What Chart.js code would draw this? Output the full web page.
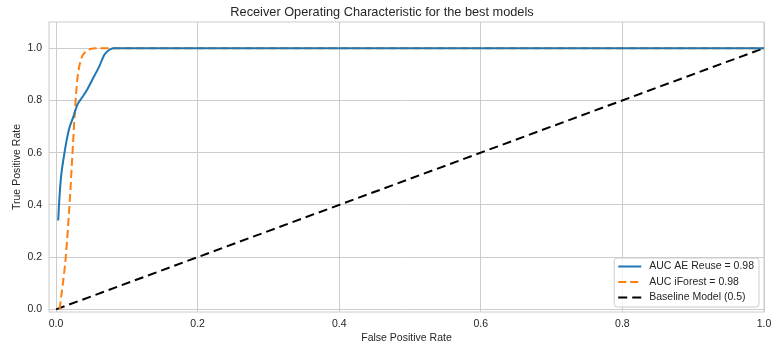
<!DOCTYPE html>
<html>
<head>
<meta charset="utf-8">
<script src="https://cdn.jsdelivr.net/npm/chart.js@4"></script>
<style>
  html, body { margin: 0; padding: 0; background: #ffffff; }
  #wrap { width: 773px; height: 349px; }
</style>
</head>
<body>
<div id="wrap"><canvas id="roc" width="773" height="349"></canvas></div>
<script>
// ROC curve points (false positive rate, true positive rate)
const aeFpr = [0.003, 0.004, 0.0066, 0.011, 0.018, 0.0245, 0.030, 0.037, 0.044, 0.051, 0.061, 0.068, 0.075, 0.081, 1.0];
const aeTpr = [0.34, 0.394, 0.496, 0.585, 0.687, 0.738, 0.783, 0.812, 0.842, 0.878, 0.93, 0.974, 0.993, 1.0, 1.0];

const ifFpr = [0.005, 0.0137, 0.0194, 0.023, 0.027, 0.030, 0.035, 0.042, 0.049, 0.056, 1.0];
const ifTpr = [0.0, 0.202, 0.419, 0.59, 0.776, 0.879, 0.955, 0.987, 0.997, 1.0, 1.0];

const baseFpr = [0.0, 1.0];
const baseTpr = [0.0, 1.0];

const seriesLabels = ['AUC AE Reuse = 0.98', 'AUC iForest = 0.98', 'Baseline Model (0.5)'];
const tickValues = [0.0, 0.2, 0.4, 0.6, 0.8, 1.0];

const FONT = '"Liberation Sans", Arial, sans-serif';
const TEXT = '#262626';
const GRID = '#cccccc';
const SMALL = 10.5;

const toPoints = (xs, ys) => xs.map((x, i) => ({ x: x, y: ys[i] }));

// Light frame around the plotting area
const framePlugin = {
  id: 'frame',
  beforeDatasetsDraw(chart) {
    const { ctx, chartArea: a } = chart;
    ctx.save();
    ctx.strokeStyle = GRID;
    ctx.lineWidth = 1;
    ctx.strokeRect(a.left, a.top, a.right - a.left, a.bottom - a.top);
    ctx.restore();
  }
};

// Legend box in the lower-right corner of the plotting area
const innerLegend = {
  id: 'innerLegend',
  afterDraw(chart) {
    const { ctx, chartArea: a } = chart;
    const sets = chart.data.datasets;
    ctx.save();
    ctx.font = SMALL + 'px ' + FONT;
    let maxW = 0;
    sets.forEach(d => { maxW = Math.max(maxW, ctx.measureText(d.label).width); });
    const padL = 4, sampleW = 23, gap = 8, padR = 5;
    const rowH = 15.5;
    const w = padL + sampleW + gap + maxW + padR;
    const h = 49;
    const x = a.right - 5 - w;
    const y = a.bottom - 5 - h;
    const r = 3;
    ctx.beginPath();
    ctx.moveTo(x + r, y);
    ctx.lineTo(x + w - r, y);
    ctx.quadraticCurveTo(x + w, y, x + w, y + r);
    ctx.lineTo(x + w, y + h - r);
    ctx.quadraticCurveTo(x + w, y + h, x + w - r, y + h);
    ctx.lineTo(x + r, y + h);
    ctx.quadraticCurveTo(x, y + h, x, y + h - r);
    ctx.lineTo(x, y + r);
    ctx.quadraticCurveTo(x, y, x + r, y);
    ctx.closePath();
    ctx.fillStyle = 'rgba(255,255,255,0.8)';
    ctx.fill();
    ctx.strokeStyle = GRID;
    ctx.lineWidth = 1;
    ctx.stroke();
    sets.forEach((d, i) => {
      const cy = y + 8.5 + i * rowH;
      ctx.beginPath();
      ctx.setLineDash(d.borderDash || []);
      ctx.strokeStyle = d.borderColor;
      ctx.lineWidth = d.borderWidth;
      ctx.moveTo(x + padL, cy);
      ctx.lineTo(x + padL + sampleW, cy);
      ctx.stroke();
      ctx.setLineDash([]);
      ctx.fillStyle = TEXT;
      ctx.textBaseline = 'middle';
      ctx.textAlign = 'left';
      ctx.fillText(d.label, x + padL + sampleW + gap, cy);
    });
    ctx.restore();
  }
};

const fixedTicks = scale => { scale.ticks = tickValues.map(v => ({ value: v })); };

new Chart(document.getElementById('roc'), {
  type: 'line',
  data: {
    datasets: [
      {
        label: seriesLabels[0],
        data: toPoints(aeFpr, aeTpr),
        borderColor: '#1f77b4',
        borderWidth: 2,
        cubicInterpolationMode: 'monotone',
        pointRadius: 0,
        fill: false
      },
      {
        label: seriesLabels[1],
        data: toPoints(ifFpr, ifTpr),
        borderColor: '#ff7f0e',
        borderWidth: 2,
        borderDash: [8, 4],
        cubicInterpolationMode: 'monotone',
        pointRadius: 0,
        fill: false
      },
      {
        label: seriesLabels[2],
        data: toPoints(baseFpr, baseTpr),
        borderColor: '#000000',
        borderWidth: 2,
        borderDash: [9, 5],
        pointRadius: 0,
        fill: false
      }
    ]
  },
  options: {
    responsive: false,
    animation: false,
    layout: { padding: { left: 0, right: 9, top: 0, bottom: 0 } },
    plugins: {
      legend: { display: false },
      tooltip: { enabled: false },
      title: {
        display: true,
        text: 'Receiver Operating Characteristic for the best models',
        color: TEXT,
        font: { family: FONT, size: 12.75, weight: 'normal' },
        padding: { top: 5, bottom: 1.7 }
      }
    },
    scales: {
      x: {
        type: 'linear',
        min: -0.01,
        max: 1.0,
        afterBuildTicks: fixedTicks,
        afterFit: s => { s.height = 37; s.paddingLeft = 0; s.paddingRight = 0; },
        grid: { color: GRID, lineWidth: 1, drawTicks: false },
        border: { display: false },
        ticks: {
          color: TEXT,
          padding: 6,
          maxRotation: 0,
          font: { family: FONT, size: SMALL },
          callback: v => v.toFixed(1)
        },
        title: {
          display: true,
          text: 'False Positive Rate',
          color: TEXT,
          font: { family: FONT, size: SMALL },
          padding: { top: 0, bottom: 5 }
        }
      },
      y: {
        type: 'linear',
        min: -0.01,
        max: 1.1,
        afterBuildTicks: fixedTicks,
        afterFit: s => { s.width = 49; s.paddingTop = 0; s.paddingBottom = 0; },
        grid: { color: GRID, lineWidth: 1, drawTicks: false },
        border: { display: false },
        ticks: {
          color: TEXT,
          padding: 7,
          font: { family: FONT, size: SMALL },
          callback: v => v.toFixed(1)
        },
        title: {
          display: true,
          text: 'True Positive Rate',
          color: TEXT,
          font: { family: FONT, size: SMALL },
          padding: { top: 11, bottom: 0 }
        }
      }
    }
  },
  plugins: [framePlugin, innerLegend]
});
</script>
</body>
</html>
